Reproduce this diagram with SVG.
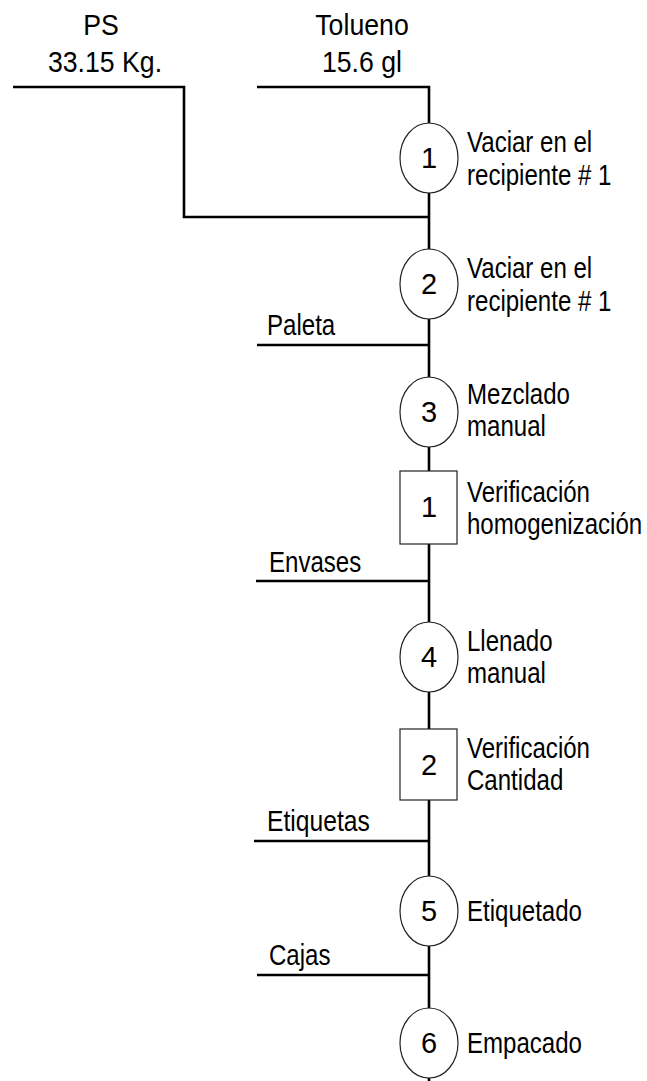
<svg xmlns="http://www.w3.org/2000/svg" width="647" height="1081" viewBox="0 0 647 1081">
<style>
text{font-family:"Liberation Sans",Arial,sans-serif;font-size:29px;fill:#000}
.c{text-anchor:middle}
.d{font-size:29px;text-anchor:middle}
.ln{stroke:#000;stroke-width:2.6;fill:none}
.op{fill:#fff;stroke:#222;stroke-width:1.2}
</style>
<rect width="647" height="1081" fill="#fff"/>
<g id="connectors">
<polyline class="ln" points="13,87 184,87 184,217 429,217"/>
<polyline class="ln" points="257,87 429,87 429,1081"/>
<line class="ln" x1="257" y1="345" x2="429" y2="345"/>
<line class="ln" x1="256" y1="581" x2="429" y2="581"/>
<line class="ln" x1="254" y1="841" x2="429" y2="841"/>
<line class="ln" x1="257" y1="975" x2="429" y2="975"/>
</g>
<g id="inputs">
<text class="c" transform="translate(101,35) scale(0.92,1)">PS</text>
<text class="c" transform="translate(105,72) scale(0.92,1)">33.15 Kg.</text>
<text class="c" transform="translate(362,35) scale(0.92,1)">Tolueno</text>
<text class="c" transform="translate(362,72) scale(0.92,1)">15.6 gl</text>
<text transform="translate(267,335) scale(0.83,1)">Paleta</text>
<text transform="translate(269,572) scale(0.83,1)">Envases</text>
<text transform="translate(267,831) scale(0.85,1)">Etiquetas</text>
<text transform="translate(269,965) scale(0.83,1)">Cajas</text>
</g>
<g id="op1">
<ellipse class="op" cx="429" cy="158" rx="29" ry="35"/>
<text class="d" x="429" y="168">1</text>
<text transform="translate(467,152) scale(0.83,1)">Vaciar en el</text>
<text transform="translate(467,185) scale(0.83,1)">recipiente # 1</text>
</g>
<g id="op2">
<ellipse class="op" cx="429" cy="284" rx="29" ry="35"/>
<text class="d" x="429" y="294">2</text>
<text transform="translate(467,278) scale(0.83,1)">Vaciar en el</text>
<text transform="translate(467,311) scale(0.83,1)">recipiente # 1</text>
</g>
<g id="op3">
<ellipse class="op" cx="429" cy="412" rx="29" ry="35"/>
<text class="d" x="429" y="422">3</text>
<text transform="translate(467,404) scale(0.83,1)">Mezclado</text>
<text transform="translate(467,436) scale(0.83,1)">manual</text>
</g>
<g id="insp1">
<rect class="op" x="400" y="471" width="57" height="73"/>
<text class="d" x="429" y="517">1</text>
<text transform="translate(467,502) scale(0.83,1)">Verificación</text>
<text transform="translate(467,534) scale(0.83,1)">homogenización</text>
</g>
<g id="op4">
<ellipse class="op" cx="429" cy="657" rx="29" ry="35"/>
<text class="d" x="429" y="667">4</text>
<text transform="translate(467,651) scale(0.83,1)">Llenado</text>
<text transform="translate(467,683) scale(0.83,1)">manual</text>
</g>
<g id="insp2">
<rect class="op" x="400" y="729" width="57" height="71"/>
<text class="d" x="429" y="775">2</text>
<text transform="translate(467,758) scale(0.83,1)">Verificación</text>
<text transform="translate(467,790) scale(0.83,1)">Cantidad</text>
</g>
<g id="op5">
<ellipse class="op" cx="429" cy="911" rx="29" ry="35"/>
<text class="d" x="429" y="921">5</text>
<text transform="translate(467,921) scale(0.83,1)">Etiquetado</text>
</g>
<g id="op6">
<ellipse class="op" cx="429" cy="1043" rx="29" ry="35"/>
<text class="d" x="429" y="1053">6</text>
<text transform="translate(467,1053) scale(0.83,1)">Empacado</text>
</g>
</svg>
